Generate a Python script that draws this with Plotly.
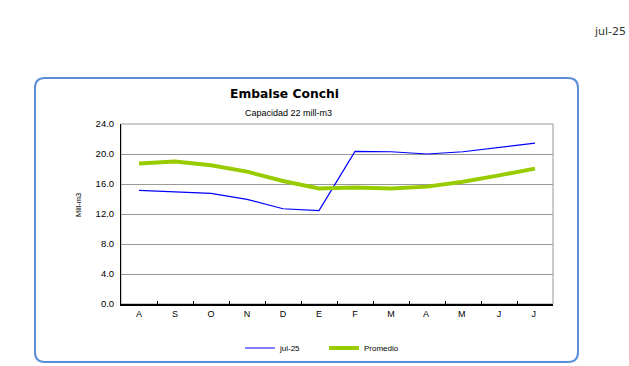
import plotly.graph_objects as go

months = ["A", "S", "O", "N", "D", "E", "F", "M", "A ", "M ", "J", "J "]
jul25 = [15.15, 14.95, 14.75, 13.95, 12.7, 12.45, 20.35, 20.3, 20.0, 20.3, 20.9, 21.45]
promedio = [18.75, 19.0, 18.5, 17.65, 16.4, 15.4, 15.55, 15.4, 15.65, 16.3, 17.15, 18.05]
yticks = [0, 4, 8, 12, 16, 20, 24]

W, H = 629, 366
L, R, T, B = 121, 76, 124, 62
pw, ph = W - L - R, H - T - B

def px(x):
    return (x - L) / pw

def py(y):
    return (H - B - y) / ph

fig = go.Figure()
fig.add_trace(go.Scatter(x=months, y=jul25, mode="lines", name="jul-25",
                         line=dict(color="#0000FF", width=1.2)))
fig.add_trace(go.Scatter(x=months, y=promedio, mode="lines", name="Promedio",
                         line=dict(color="#99CC00", width=4)))

# rounded border
x0, x1, y0, y1 = px(35), px(578), py(362), py(78)
rx, ry = 10 / pw, 10 / ph
path = (f"M {x0+rx},{y1} L {x1-rx},{y1} Q {x1},{y1} {x1},{y1-ry} "
        f"L {x1},{y0+ry} Q {x1},{y0} {x1-rx},{y0} L {x0+rx},{y0} "
        f"Q {x0},{y0} {x0},{y0+ry} L {x0},{y1-ry} Q {x0},{y1} {x0+rx},{y1} Z")
fig.add_shape(type="path", path=path, xref="paper", yref="paper",
              line=dict(color="#5B8ED6", width=2), layer="below")
# plot area border (gray)
fig.add_shape(type="rect", xref="paper", yref="paper", x0=0, x1=1, y0=0, y1=1,
              line=dict(color="#999999", width=1), layer="below")

fig.add_annotation(text="<b>Embalse Conchi</b>", x=px(284), y=py(94), xref="paper", yref="paper",
                   xanchor="center", yanchor="middle", showarrow=False,
                   font=dict(family="DejaVu Sans", size=12.3, color="#000000"))
fig.add_annotation(text="Capacidad 22 mill-m3", x=px(288), y=py(112.5), xref="paper", yref="paper",
                   xanchor="center", yanchor="middle", showarrow=False,
                   font=dict(family="Liberation Sans, Arial", size=9, color="#000000"))
fig.add_annotation(text="Mill-m3", x=px(78), y=py(205), xref="paper", yref="paper", textangle=-90,
                   xanchor="center", yanchor="middle", showarrow=False,
                   font=dict(family="Liberation Sans, Arial", size=7.5, color="#000000"))
fig.add_annotation(text="jul-25", x=px(628), y=py(31), xref="paper", yref="paper",
                   xanchor="right", yanchor="middle", showarrow=False,
                   font=dict(family="DejaVu Sans", size=11, color="#333333"))

fig.update_layout(
    width=W, height=H,
    margin=dict(l=L, r=R, t=T, b=B, autoexpand=False),
    paper_bgcolor="white", plot_bgcolor="white",
    showlegend=True,
    legend=dict(orientation="h", xref="container", yref="container",
                x=240 / W, xanchor="left", y=1 - 348 / H, yanchor="middle",
                font=dict(family="Liberation Sans, Arial", size=8, color="#000000"),
                entrywidth=39, itemwidth=30, bgcolor="rgba(0,0,0,0)"),
    xaxis=dict(type="category", range=[-0.5, 11.5], tickson="boundaries",
               ticks="inside", ticklen=3, tickcolor="#000000", tickwidth=1,
               showgrid=False, showline=True, linecolor="#000000", linewidth=2,
               tickfont=dict(family="Liberation Sans, Arial", size=9, color="#000000"),
               automargin=False, fixedrange=True),
    yaxis=dict(range=[0, 24], tickvals=yticks, ticktext=[f"{v:.1f}" for v in yticks],
               showgrid=True, gridcolor="#999999", gridwidth=1,
               showline=True, linecolor="#000000", linewidth=1, zeroline=False,
               tickfont=dict(family="Liberation Sans, Arial", size=9.5, color="#000000"),
               ticks="", ticklabelstandoff=4, automargin=False, fixedrange=True),
)

fig.write_html("out.html", config={"displayModeBar": False},
               post_script="document.body.style.margin='0';document.body.style.overflow='hidden';")
